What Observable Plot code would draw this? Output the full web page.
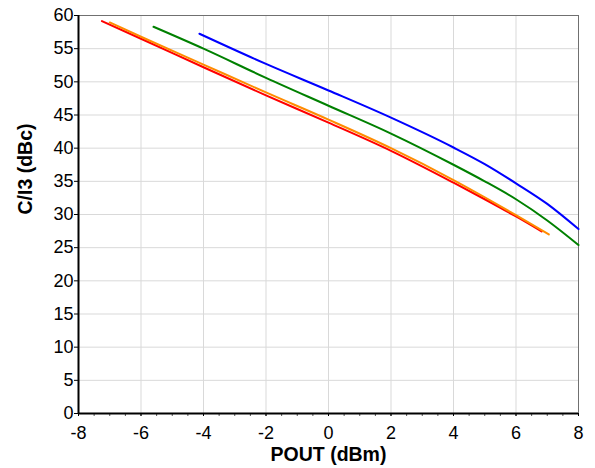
<!DOCTYPE html>
<html>
<head>
<meta charset="utf-8">
<script src="https://cdn.jsdelivr.net/npm/d3@7"></script>
<script src="https://cdn.jsdelivr.net/npm/@observablehq/plot@0.6"></script>
<style>
  html, body { margin: 0; padding: 0; background: #fff; }
  #chart svg { display: block; }
  #chart g[aria-label$="tick label"] { font-size: 18px; }
</style>
</head>
<body>
<div id="chart"></div>
<script>
// Series data (POUT dBm, C/I3 dBc)
const redX    = [-7.25, -6, -4, -2, 0, 2, 4, 5, 6, 6.82];
const redY    = [59.15, 56.5, 52.2, 47.95, 43.85, 39.6, 34.8, 32.3, 29.7, 27.45];
const orangeX = [-7.0, -6, -4, -2, 0, 2, 4, 5, 6, 7.05];
const orangeY = [58.95, 56.8, 52.6, 48.4, 44.3, 40.0, 35.2, 32.6, 29.9, 27.0];
const greenX  = [-5.6, -4, -2, 0, 2, 4, 5, 6, 7, 8];
const greenY  = [58.3, 55.0, 50.6, 46.4, 42.2, 37.5, 35.0, 32.3, 29.1, 25.4];
const blueX   = [-4.13, -2, 0, 2, 4, 5, 6, 7, 8];
const blueY   = [57.25, 52.7, 48.7, 44.6, 40.1, 37.6, 34.7, 31.6, 27.8];

const xMinorTicks = d3.range(-8, 8.01, 0.5);
const xLabels = [-8, -6, -4, -2, 0, 2, 4, 6, 8];
const xGrid  = [-6, -4, -2, 0, 2, 4, 6];
const yTicks = [0, 5, 10, 15, 20, 25, 30, 35, 40, 45, 50, 55, 60];
const xTitle = "POUT (dBm)";
const yTitle = "C/I3 (dBc)";

const series = [
  {name: "red", color: "#ff0000", xs: redX, ys: redY},
  {name: "orange", color: "#ff8c00", xs: orangeX, ys: orangeY},
  {name: "green", color: "#008000", xs: greenX, ys: greenY},
  {name: "blue", color: "#0000ff", xs: blueX, ys: blueY}
];
const rows = series.flatMap(s => s.xs.map((x, i) => ({series: s.name, color: s.color, x, y: s.ys[i]})));

const font = "'Liberation Sans', Arial, Helvetica, sans-serif";

const chart = Plot.plot({
  width: 595,
  height: 468,
  marginLeft: 78,
  marginRight: 17,
  marginTop: 15,
  marginBottom: 55,
  style: {fontFamily: font, fontSize: "18px", color: "#000", background: "#fff"},
  x: {domain: [-8, 8]},
  y: {domain: [0, 60]},
  marks: [
    Plot.gridX(xGrid, {stroke: "#d9d9d9", strokeOpacity: 1, strokeWidth: 1}),
    Plot.gridY(yTicks.slice(1, -1), {stroke: "#d9d9d9", strokeOpacity: 1, strokeWidth: 1}),
    Plot.frame({stroke: "#707070", strokeWidth: 1}),
    Plot.axisX({ticks: xMinorTicks, tickFormat: null, text: null, tickSize: 3, stroke: "#555", label: null}),
    Plot.axisX({ticks: xLabels, tickFormat: d => String(d), tickSize: 3, tickPadding: 10, label: null, stroke: "#000"}),
    Plot.axisY({ticks: yTicks, tickFormat: d => String(d), tickSize: 4, tickPadding: 1, label: null, stroke: "#000"}),
    Plot.ruleX([-8], {stroke: "#000", strokeWidth: 2}),
    Plot.ruleY([0], {stroke: "#000", strokeWidth: 2}),
    Plot.line(rows, {x: "x", y: "y", z: "series", stroke: "color", strokeWidth: 2, curve: "monotone-x"}),
    Plot.text([xTitle], {frameAnchor: "bottom", dy: 47, fontWeight: "bold", fontSize: 19.5, fill: "#000"}),
    Plot.text([yTitle], {frameAnchor: "left", dx: -53, dy: 0, rotate: -90, fontWeight: "bold", fontSize: 19.5, fill: "#000"})
  ]
});
document.getElementById("chart").appendChild(chart);
</script>
</body>
</html>
